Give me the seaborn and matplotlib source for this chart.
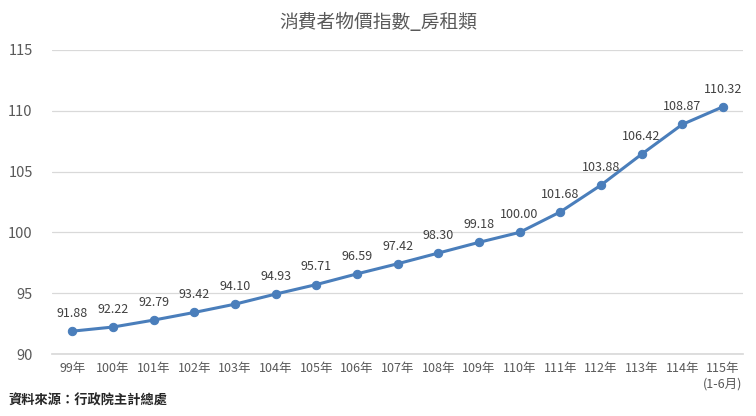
import matplotlib
matplotlib.use('Agg')
import matplotlib.pyplot as plt
import seaborn as sns
import pandas as pd

years = ['99年', '100年', '101年', '102年', '103年', '104年', '105年', '106年', '107年',
         '108年', '109年', '110年', '111年', '112年', '113年', '114年', '115年\n(1-6月)']
cpi_rent = [91.88, 92.22, 92.79, 93.42, 94.10, 94.93, 95.71, 96.59, 97.42,
            98.30, 99.18, 100.00, 101.68, 103.88, 106.42, 108.87, 110.32]
y_ticks = [90, 95, 100, 105, 110, 115]

sns.set_theme(style='white')
plt.rcParams['font.family'] = ['Noto Sans CJK TC', 'DejaVu Sans']

df = pd.DataFrame({'year': years, 'cpi': cpi_rent})
df['pos'] = range(len(df))

fig = plt.figure(figsize=(7.56, 4.16), dpi=100)
ax = fig.add_axes([0.069, 0.149, 0.914, 0.731])

line_color = '#4a7ebb'
sns.lineplot(data=df, x='pos', y='cpi', ax=ax, color=line_color, linewidth=2.2,
             marker='o', markersize=6, markeredgecolor=line_color)

for x, y in zip(df['pos'], df['cpi']):
    ax.annotate(f'{y:.2f}', (x, y), xytext=(0, 8), textcoords='offset points',
                ha='center', va='bottom', fontsize=9, color='#404040')

ax.set_xlim(-0.5, len(years) - 0.5)
ax.set_ylim(90, 115)
ax.set_yticks(y_ticks)
ax.set_xticks(df['pos'])
ax.set_xticklabels(years, fontsize=9, color='#595959', linespacing=1.2)
ax.tick_params(axis='y', labelsize=10.5, colors='#595959', length=0, pad=14)
ax.tick_params(axis='x', length=0, pad=6)
ax.grid(axis='y', color='#d9d9d9', linewidth=0.9)
ax.set_xlabel('')
ax.set_ylabel('')
for side in ['top', 'right', 'left']:
    ax.spines[side].set_visible(False)
ax.spines['bottom'].set_color('#d9d9d9')

fig.text(0.5, 0.945, '消費者物價指數_房租類', ha='center', va='center',
         fontsize=13.5, color='#595959')
fig.text(0.011, 0.038, '資料來源：行政院主計總處', ha='left', va='center',
         fontsize=9.5, fontweight='bold', color='#262626')

fig.savefig('out.png', dpi=100)
